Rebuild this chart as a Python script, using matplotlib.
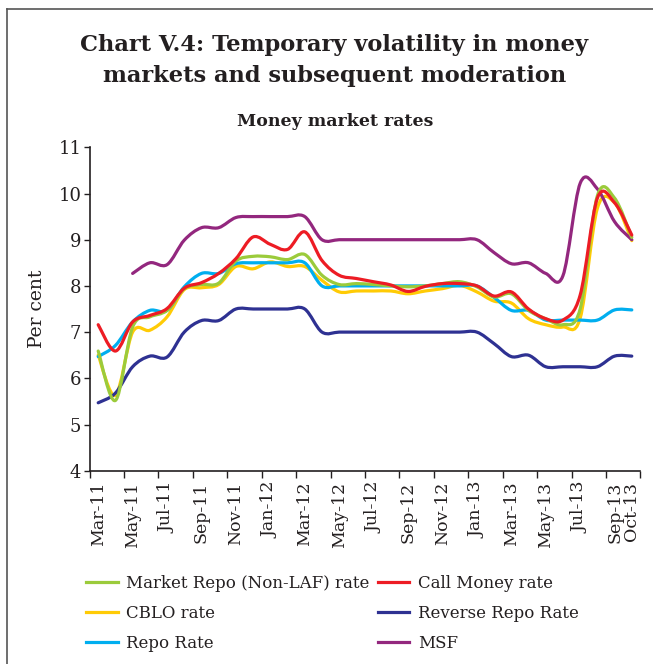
import numpy as np
import matplotlib
matplotlib.use('Agg')
import matplotlib.pyplot as plt
from matplotlib.path import Path
from matplotlib.patches import PathPatch
from matplotlib.lines import Line2D

plt.rcParams['font.family'] = ['DejaVu Serif']

months = ['Mar-11', 'Apr-11', 'May-11', 'Jun-11', 'Jul-11', 'Aug-11', 'Sep-11', 'Oct-11',
          'Nov-11', 'Dec-11', 'Jan-12', 'Feb-12', 'Mar-12', 'Apr-12', 'May-12', 'Jun-12',
          'Jul-12', 'Aug-12', 'Sep-12', 'Oct-12', 'Nov-12', 'Dec-12', 'Jan-13', 'Feb-13',
          'Mar-13', 'Apr-13', 'May-13', 'Jun-13', 'Jul-13', 'Aug-13', 'Sep-13', 'Oct-13']

market_repo = [6.59, 5.52, 7.11, 7.33, 7.47, 7.94, 8.03, 8.06, 8.54, 8.64, 8.63, 8.57,
               8.68, 8.23, 8.03, 8.05, 8.03, 8.0, 7.98, 8.0, 8.05, 8.09, 7.98, 7.76,
               7.83, 7.47, 7.29, 7.16, 7.5, 9.95, 9.9, 9.05]
call_money = [7.16, 6.59, 7.22, 7.36, 7.51, 7.95, 8.07, 8.27, 8.59, 9.06, 8.9, 8.79,
              9.17, 8.55, 8.23, 8.16, 8.09, 8.02, 7.88, 7.99, 8.05, 8.05, 8.0, 7.78,
              7.87, 7.5, 7.29, 7.26, 7.8, 9.9, 9.8, 9.1]
cblo = [6.5, 5.63, 7.0, 7.04, 7.33, 7.92, 7.96, 8.03, 8.42, 8.37, 8.52, 8.42,
        8.42, 8.12, 7.87, 7.89, 7.89, 7.89, 7.83, 7.89, 7.94, 8.01, 7.87, 7.67,
        7.63, 7.29, 7.16, 7.11, 7.3, 9.68, 9.8, 8.98]
reverse_repo = [5.47, 5.68, 6.25, 6.48, 6.46, 7.0, 7.25, 7.25, 7.5, 7.5, 7.5, 7.5,
                7.5, 7.0, 7.0, 7.0, 7.0, 7.0, 7.0, 7.0, 7.0, 7.0, 7.0, 6.75,
                6.47, 6.5, 6.25, 6.25, 6.25, 6.25, 6.48, 6.48]
repo = [6.47, 6.71, 7.22, 7.47, 7.47, 7.98, 8.27, 8.27, 8.48, 8.5, 8.5, 8.5,
        8.5, 8.0, 8.0, 8.0, 8.0, 8.0, 8.0, 8.0, 8.0, 8.0, 8.0, 7.75,
        7.47, 7.47, 7.26, 7.26, 7.26, 7.26, 7.48, 7.48]
msf = [None, None, 8.27, 8.5, 8.46, 8.99, 9.26, 9.26, 9.48, 9.5, 9.5, 9.5,
       9.5, 9.0, 9.0, 9.0, 9.0, 9.0, 9.0, 9.0, 9.0, 9.0, 9.0, 8.72,
       8.48, 8.5, 8.27, 8.22, 10.22, 10.1, 9.39, 9.0]

series = [
    ('Market Repo (Non-LAF) rate', market_repo, '#9BCB3B'),
    ('Call Money rate', call_money, '#ED1C24'),
    ('CBLO rate', cblo, '#FFCB05'),
    ('Reverse Repo Rate', reverse_repo, '#2E3192'),
    ('Repo Rate', repo, '#00AEEF'),
    ('MSF', msf, '#93277E'),
]
draw_order = ['CBLO rate', 'Repo Rate', 'Reverse Repo Rate', 'MSF',
              'Market Repo (Non-LAF) rate', 'Call Money rate']


def smooth_path(xs, ys):
    # excel style smoothed line: cubic bezier through every point
    pts = np.column_stack([xs, ys])
    n = len(pts)
    verts = [pts[0]]
    codes = [Path.MOVETO]
    for i in range(n - 1):
        p0 = pts[max(i - 1, 0)]
        p1 = pts[i]
        p2 = pts[i + 1]
        p3 = pts[min(i + 2, n - 1)]
        verts += [p1 + (p2 - p0) / 6.0, p2 - (p3 - p1) / 6.0, p2]
        codes += [Path.CURVE4] * 3
    return Path(verts, codes)


fig = plt.figure(figsize=(6.53, 6.64), dpi=100)
ax = fig.add_axes([89.6 / 653, 1 - 470.7 / 664, 550.8 / 653, 323.4 / 664])

x = np.arange(len(months)) + 0.5
lookup = {name: (vals, col) for name, vals, col in series}
for name in draw_order:
    vals, col = lookup[name]
    ok = [v is not None for v in vals]
    xs = x[ok]
    ys = np.array([v for v in vals if v is not None])
    ax.add_patch(PathPatch(smooth_path(xs, ys), fill=False, edgecolor=col,
                           lw=2.3, capstyle='round', joinstyle='round'))

ax.set_xlim(0, 32)
ax.set_ylim(4, 11)
ax.set_yticks(range(4, 12))
ax.set_xticks(np.arange(0, 33, 2))
ax.set_xticklabels([])
lab_pos = [x[i] for i in range(0, 31, 2)] + [x[31]]
lab_txt = [months[i] for i in range(0, 31, 2)] + [months[31]]
ax.set_xticks(lab_pos, minor=True)
ax.set_xticklabels(lab_txt, minor=True, rotation=90, fontsize=12.5, color='#231F20')
ax.tick_params(axis='x', which='minor', length=0, pad=8)
ax.tick_params(axis='x', which='major', length=5, width=1, color='#231F20')
ax.tick_params(axis='y', length=4, width=1, labelsize=13, color='#231F20',
               labelcolor='#231F20', pad=2)
for s in ['top', 'right']:
    ax.spines[s].set_visible(False)
for s in ['left', 'bottom']:
    ax.spines[s].set_color('#231F20')
    ax.spines[s].set_linewidth(1.2)
ax.set_ylabel('Per cent', fontsize=13.5, color='#231F20', labelpad=9)

fig.text(0.512, 1 - 45 / 664, 'Chart V.4: Temporary volatility in money',
         ha='center', va='center', fontsize=16.2, fontweight='bold', color='#231F20')
fig.text(0.512, 1 - 76 / 664, 'markets and subsequent moderation',
         ha='center', va='center', fontsize=16.2, fontweight='bold', color='#231F20')
fig.text(0.513, 1 - 121 / 664, 'Money market rates', ha='center', va='center',
         fontsize=12.5, fontweight='semibold', color='#231F20')

# frame on the left and top
fig.add_artist(Line2D([7 / 653, 7 / 653], [0, 1 - 9 / 664], color='#555555', lw=1.2))
fig.add_artist(Line2D([7 / 653, 1], [1 - 9 / 664, 1 - 9 / 664], color='#555555', lw=1.2))

# legend is filled column by column, so reorder to get the rows of the original
leg_order = [0, 2, 4, 1, 3, 5]
handles = [Line2D([], [], color=series[i][2], lw=2.3) for i in leg_order]
names = [series[i][0] for i in leg_order]
fig.legend(handles, names, ncol=2, loc='upper left', bbox_to_anchor=(71 / 653, 1 - 560 / 664),
           frameon=False, fontsize=12, handlelength=1.9, handletextpad=0.5,
           columnspacing=0.5, labelspacing=0.78, labelcolor='#231F20')

plt.savefig('out.png', dpi=100)
